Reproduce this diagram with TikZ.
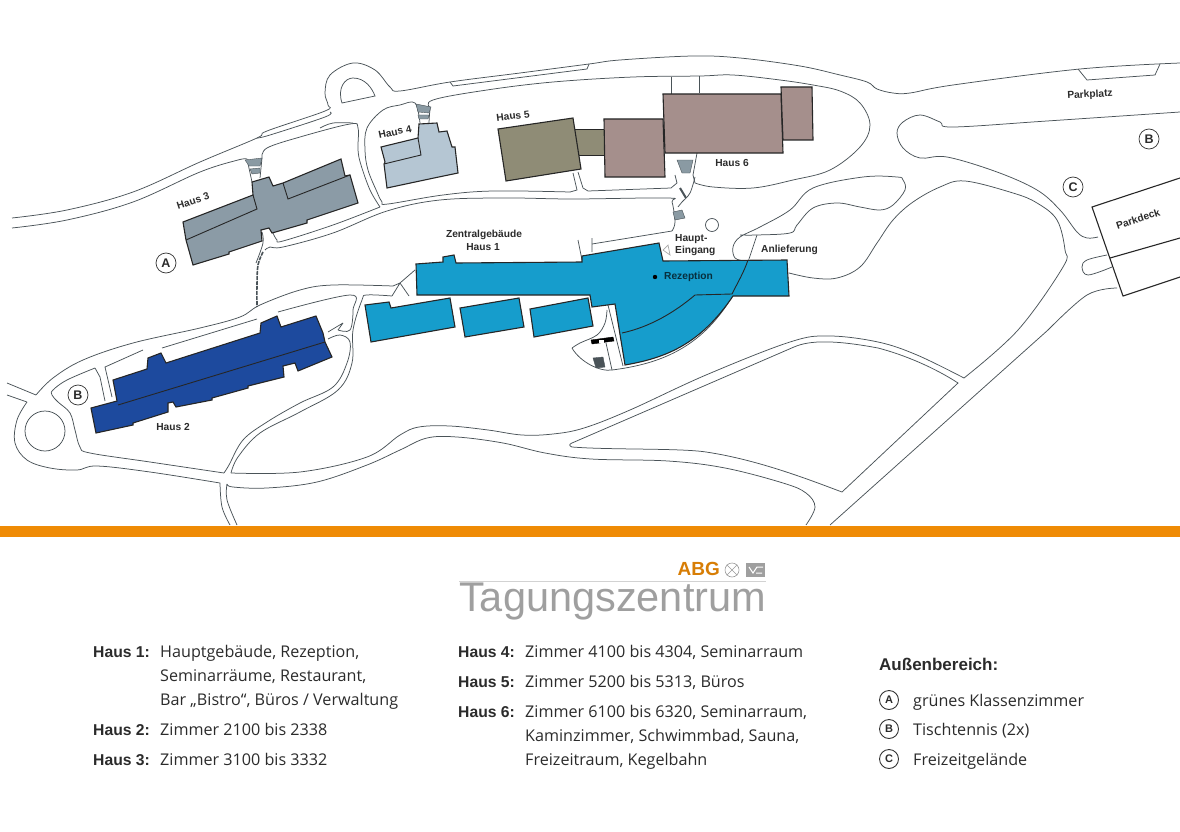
\documentclass[tikz,border=0pt]{standalone}
\usepackage{fontspec}
\setmainfont{Liberation Sans}
\newfontfamily\legendfont{Open Sans}
\usetikzlibrary{calc}
\definecolor{roadline}{HTML}{4A5358}
\definecolor{haus1}{HTML}{169DCC}
\definecolor{haus2}{HTML}{1D4A9E}
\definecolor{haus3}{HTML}{8B9BA6}
\definecolor{haus4}{HTML}{B5C6D3}
\definecolor{haus5}{HTML}{8F8C76}
\definecolor{haus6}{HTML}{A58F8C}
\definecolor{stepgray}{HTML}{8A9AA3}
\definecolor{bar}{HTML}{EF8B05}
\definecolor{ink}{HTML}{2B2B2B}
\tikzset{
    road/.style={draw=roadline, line width=0.75pt},
    house/.style={draw=black!85, line width=1.1pt, line join=miter},
    inner/.style={draw=black!85, line width=0.9pt},
    stairs/.style={fill=stepgray, draw=roadline, line width=0.4pt},
    lbl/.style={font=\bfseries\fontsize{10.2}{11}\selectfont, text=ink, inner sep=0pt},
    mapmark/.style={draw=black!80, circle, line width=0.7pt, minimum size=20pt, inner sep=0pt, font=\bfseries\fontsize{12.5}{13}\selectfont, text=ink},
    smallmark/.style={draw=black!80, circle, line width=0.9pt, minimum size=19pt, inner sep=0pt, font=\bfseries\fontsize{11}{12}\selectfont, text=ink},
    keytext/.style={anchor=base west, inner sep=0pt, font=\bfseries\fontsize{15.7}{16}\selectfont, text=ink},
    legtext/.style={anchor=base west, inner sep=0pt, font=\legendfont\fontsize{16.15}{17}\selectfont, text=ink}
}
\begin{document}
\begin{tikzpicture}[x=1pt, y=-1pt]
    \useasboundingbox (0,0) rectangle (1180,832);

    % west road and small roundabout
    \draw[road] plot[smooth, tension=0.6] coordinates {(12,218) (67,210) (133,192) (200,162) (257,138) (267,131) (325,111) (328,105) (325,93) (330,75) (353,63) (375,70) (390,87) (400,91) (450,82) (520,73) (589,64) (620,60) (693,56) (740,58) (800,66) (840,75) (867,82) (877,89) (893,93) (910,93) (953,85) (1080,69) (1180,63)};
    \draw[road] plot[smooth, tension=0.6] coordinates {(257,138) (270,135) (325,117) (330,112)};
    \draw[road] plot[smooth, tension=0.6] coordinates {(12,228) (67,220) (133,202) (200,172) (238,160) (247,159)};
    \draw[road] (247,159) -- (252,182) (260,178) -- (262,158);
    \draw[road] plot[smooth, tension=0.6] coordinates {(262,158) (267,148) (300,137) (350,124) (358,128) (358,150) (361,165) (370,190) (380,207)};
    \draw[road] plot[smooth, tension=0.6] coordinates {(380,207) (333,225) (283,241) (277,240) (273,233)};
    \draw[road] plot[smooth, tension=0.6] coordinates {(320,128) (333,123) (353,123)};
    \draw[road] (342,103) .. controls (337,88) and (345,78) .. (353,78) .. controls (365,78) and (372,88) .. (375,96) -- cycle;
    \draw[road] plot[smooth, tension=0.6] coordinates {(265,250) (270,247) (283,247) (333,233) (387,211) (440,200) (507,198) (573,199) (667,198) (672,202) (675,222) (672,231)};
    \draw[road] (672,231) -- (592,244);
    % walkway to Haus 2
    \draw[road, line width=1.6pt, dash pattern=on 4pt off 1pt] plot[smooth, tension=0.6] coordinates {(263,252) (258,265) (257,285) (257,307)};
    \draw[road] plot[smooth, tension=0.6] coordinates {(262,232) (263,243) (256,263)};

    % around Haus 4 and Haus 5
    \draw[road] plot[smooth, tension=0.6] coordinates {(429,123) (430,110) (433,100) (487,90) (553,82) (633,77) (700,76) (733,75) (780,80) (813,85) (840,91) (860,103) (870,125) (860,147) (830,170) (793,180) (753,188) (713,187) (695,183)};
    \draw[road] (695,183) -- (693,175) -- (697,153);
    \draw[road] plot[smooth, tension=0.6] coordinates {(420,123) (415,103) (400,105) (383,110) (367,128) (365,150) (368,170) (377,192) (382,202) (388,204) (443,195) (493,191) (570,192)};
    \draw[road] (570,192) -- (577,190) -- (573,173);
    \draw[road] (578,172) -- (583,188) -- (588,191) -- (671,188) -- (677,183) -- (675,175);
    \draw[road] (671,94) -- (671,77) (699,93) -- (699,76);
    \draw[road] plot[smooth, tension=0.6] coordinates {(695,177) (690,193) (682,202) (678,207)};
    \draw[road] (592,238) -- (592,252) (578,240) -- (582,260);
    \draw[road, line width=2pt] (680,188) -- (686,198);
    \draw[stairs] (677,160) -- (693,160) -- (690,173) -- (682,173) -- cycle;
    \draw[stairs] (673,212) -- (682,210) -- (685,218) -- (675,220) -- cycle;
    \draw[stairs] (245,160) -- (262,158) -- (260,166) -- (249,166) -- cycle;
    \draw[stairs] (250,169) -- (260,168) -- (260,173) -- (252,174) -- cycle;
    \draw[stairs] (416,104) -- (431,107) -- (429,113) -- (418,112) -- cycle;
    \draw[stairs] (418,115) -- (429,115) -- (428,119) -- (419,119) -- cycle;

    % east roads
    \draw[road] plot[smooth, tension=0.6] coordinates {(1180,112) (1047,121) (953,127) (940,122) (920,115) (903,122) (897,133) (903,148) (920,158) (947,157) (997,172) (1037,190) (1060,210) (1077,232) (1087,238) (1098,237)};
    \draw[road] plot[smooth, tension=0.6] coordinates {(1107,255) (1087,260) (1082,267) (1088,275) (1112,267)};
    \draw[road] plot[smooth, tension=0.6] coordinates {(745,261) (735,258) (733,247) (740,237) (760,227) (790,210) (813,188) (863,177) (897,177) (903,180) (905,190) (893,205) (880,210) (860,207) (837,203) (813,208) (797,225) (790,233) (757,235) (740,235)};
    \draw[road] (757,235) -- (748,262);
    \draw[road] plot[smooth, tension=0.6] coordinates {(789,273) (813,278) (837,278) (860,267) (877,243) (893,220) (913,202) (940,187) (965,181) (1013,193) (1037,203) (1057,220) (1065,250) (1063,267) (1018,330) (964,378)};
    \draw[road] plot[smooth, tension=0.6] coordinates {(1117,288) (1087,295) (1048,330)};
    \draw[road] (1048,330) -- (830,525);
    \draw[road] (1078,69) -- (1087,80) -- (1155,75) -- (1160,64);
    \draw[road] (450,82) -- (453,86) -- (587,69) -- (589,64);
    \draw[road] (712,225) circle[radius=6.5];

    % long south road and island
    \draw[road] plot[smooth, tension=0.6] coordinates {(231,473) (300,472) (367,457) (400,435) (419,427) (450,426) (488,430) (522,435) (553,434) (584,428) (630,410) (706,375) (790,342) (829,336) (878,342) (917,355) (964,378)};
    \draw[road] plot[smooth, tension=0.6] coordinates {(227,484) (233,487) (267,488) (317,482) (367,465) (400,450) (427,438) (457,437) (503,443) (545,453) (591,459) (668,461) (725,468) (783,483) (806,493) (815,507) (806,525)};
    \draw[road] (842,492) .. controls (815,482) and (760,460) .. (706,452) .. controls (680,448) and (610,450) .. (572,447) .. controls (569,446) and (569,444) .. (572,443) -- (794,347) .. controls (810,340) and (835,340) .. (878,348) .. controls (905,355) and (935,368) .. (958,383) -- cycle;

    % south west roads and roundabout
    \draw[road] plot[smooth, tension=0.6] coordinates {(393,286) (333,285) (300,290) (260,305) (240,317) (200,328) (133,343) (83,360) (53,378) (36,395)};
    \draw[road] (36,395) -- (7,383);
    \draw[road] (7,395) -- (27,402);
    \draw[road] plot[smooth, tension=0.6] coordinates {(27,402) (17,420) (15,443) (27,460) (50,468) (77,470) (97,466) (150,472) (220,483)};
    \draw[road] plot[smooth, tension=0.6] coordinates {(220,483) (222,507) (230,525)};
    \draw[road] plot[smooth, tension=0.6] coordinates {(227,484) (227,500) (237,525)};
    \draw[road] plot[smooth, tension=0.6] coordinates {(95,368) (67,380) (53,390) (52,395) (58,402) (70,413) (75,430) (80,447) (90,453) (150,462) (224,473)};
    \draw[road] (95,368) -- (100,377) -- (105,401);
    \draw[road] (112,397) -- (105,367) -- (143,350);
    \draw[road] (162,348) -- (257,319);
    \draw[road] plot[smooth, tension=0.6] coordinates {(278,312) (350,295) (353,310) (350,330) (338,330)};
    \draw[road] (338,330) -- (343,323) (328,332) -- (343,323);
    \draw[road] plot[smooth, tension=0.6] coordinates {(328,339) (340,335) (350,342) (347,363) (333,387) (300,403) (267,422) (243,440) (229,465) (224,473)};
    \draw[road] plot[smooth, tension=0.6] coordinates {(392,296) (367,295) (362,300) (353,330) (352,363) (338,390) (300,412) (260,433) (238,457) (231,473)};
    \draw[road] (45,431) circle[radius=20];
    \draw[road] (392,296) -- (400,283) -- (409,296) (400,283) -- (415,270) (393,286) -- (400,283);

    % yard behind Haus 1
    \draw[road] plot[smooth, tension=0.6] coordinates {(607,310) (605,323) (597,335) (580,343) (572,348)};
    \draw[road] (572,348) .. controls (580,362) and (600,372) .. (612,370) .. controls (660,364) and (700,348) .. (730,300);
    \draw[road] (606,343) -- (612,370);
    \draw[road] (608,305) -- (623,366);
    \draw[fill=black] (591,340) -- (613,337) -- (614,341) -- (592,344) -- cycle;
    \draw[fill=white, draw=none] (599,339.5) rectangle (604,342.5);
    \draw[stairs, fill=roadline] (593,358) -- (603,357) -- (605,367) -- (596,368) -- cycle;

    % Haus 3
    \draw[house, fill=haus3] (183,222) -- (253,195) -- (252,182) -- (269,177) -- (273,186) -- (283,183) -- (341,159) -- (345,176) -- (350,175) -- (358,203) -- (307,220) -- (307,223) -- (272,233) -- (269,228) -- (261,230) -- (262,241) -- (229,252) -- (229,254) -- (193,265) -- (186,240) -- cycle;
    \draw[inner] (186,240) -- (257,209) -- (253,195) (283,183) -- (288,199) -- (350,175);
    % Haus 4
    \draw[house, fill=haus4] (381,147) -- (418,138) -- (419,124) -- (437,123) -- (439,132) -- (447,131) -- (452,147) -- (455,147) -- (458,173) -- (434,178) -- (387,188) -- (384,164) -- (385,162) -- cycle;
    \draw[inner] (384,164) -- (421,155) -- (418,138);
    % Haus 5
    \draw[draw=none, fill=haus5] (575,129) rectangle (604,155);
    \draw[inner, line width=0.6pt] (575,129) -- (604,129) (578,155) -- (604,155);
    \draw[house, fill=haus5] (498,129) -- (573,118) -- (581,169) -- (506,181) -- cycle;
    % Haus 6
    \draw[house, fill=haus6] (604,119) -- (663,119) -- (665,177) -- (605,177) -- cycle;
    \draw[house, fill=haus6] (663,94) -- (781,94) -- (783,153) -- (665,153) -- cycle;
    \draw[house, fill=haus6] (781,87) -- (812,87) -- (813,140) -- (783,140) -- cycle;
    % Haus 2
    \draw[house, fill=haus2] (113,380) -- (147,369) -- (148,358) -- (161,353) -- (166,363) -- (260,333) -- (261,323) -- (277,316) -- (281,327) -- (316,316) -- (323,333) -- (325,342) -- (332,357) -- (298,371) -- (295,363) -- (283,366) -- (284,377) -- (248,386) -- (248,388) -- (212,398) -- (212,400) -- (176,407) -- (173,402) -- (168,403) -- (168,412) -- (133,423) -- (133,425) -- (96,433) -- (91,408) -- (117,401) -- cycle;
    \draw[inner] (118,405) -- (325,342);
    % Haus 1
    \draw[house, fill=haus1] (416,264) -- (443,262) -- (443,257) -- (454,255) -- (456,263) -- (582,262) -- (582,256) -- (659,243) -- (663,261) -- (787,260) -- (789,296) -- (733,296) .. controls (700,345) and (665,358) .. (625,365) -- (615,304) -- (592,307) -- (590,295) -- (417,295) -- cycle;
    \draw[inner] (622,333) .. controls (650,327) and (675,312) .. (695,295) -- (732,294) .. controls (738,282) and (744,272) .. (748,260);
    \draw[house, fill=haus1] (365,305) -- (389,302) -- (391,308) -- (450,298) -- (455,327) -- (371,342) -- cycle;
    \draw[house, fill=haus1] (460,308) -- (519,298) -- (524,327) -- (465,337) -- cycle;
    \draw[house, fill=haus1] (530,309) -- (588,298) -- (593,326) -- (534,337) -- cycle;
    \draw[draw=gray!70, fill=white, line width=0.7pt] (668,245) -- (663,250) -- (670,255) -- cycle;
    \fill[black] (655,277) circle[radius=2.2];

    % Parkdeck
    \draw[house, fill=white] (1180,178) -- (1092,207) -- (1123,296) -- (1180,277);
    \draw[house] (1110,258) -- (1180,238);

    % map labels
    \node[lbl, rotate=18] (h3) at (193,201) {Haus 3};
    \node[lbl, rotate=12] (h4) at (395,132) {Haus 4};
    \node[lbl, rotate=7] (h5) at (513,116) {Haus 5};
    \node[lbl] (h6) at (732,163) {Haus 6};
    \node[lbl] (h2) at (173,427) {Haus 2};
    \node[lbl] (zentral) at (484,235) {Zentralgebäude};
    \node[lbl] (h1) at (483,247.5) {Haus 1};
    \node[lbl, anchor=west] (haupt) at (675,239) {Haupt-};
    \node[lbl, anchor=west] (eingang) at (675,251) {Eingang};
    \node[lbl, anchor=west] (anlief) at (761,250) {Anlieferung};
    \node[lbl, anchor=west, text=black!70!haus1] (rezep) at (664,277) {Rezeption};
    \node[lbl, rotate=3] (parkplatz) at (1090,95) {Parkplatz};
    \node[lbl, rotate=18] (parkdeck) at (1138,219) {Parkdeck};
    \node[mapmark] (mapA) at (166,263) {A};
    \node[mapmark] (mapB) at (78,395) {B};
    \node[mapmark] (mapB2) at (1149,139) {B};
    \node[mapmark] (mapC) at (1073,187) {C};

    % orange bar and logo
    \fill[bar] (0,526) rectangle (1180,537);
    \draw[gray!35, line width=0.6pt] (459,581) -- (766,581);
    \node[anchor=base east, inner sep=0pt, text=bar!90!black, font=\bfseries\fontsize{19}{20}\selectfont] (abg) at (720,575.5) {ABG};
    \node[draw=gray!80, circle, minimum size=14pt, inner sep=0pt, line width=0.6pt] (logoX) at (732,570) {};
    \draw[gray!80, line width=0.6pt] (logoX.north west) -- (logoX.south east) (logoX.north east) -- (logoX.south west);
    \fill[gray!75] (746,563) rectangle (765,577);
    \draw[white, line width=1pt] (749,567) -- (753,573) -- (757,567) -- (763,567) (756,573) -- (762,573);
    \node[anchor=base west, inner sep=0pt, text=gray!75, font=\fontsize{41.5}{42}\selectfont] (titel) at (459,611) {Tagungszentrum};

    % legend
    \node[keytext] (k1) at (93,657) {Haus 1:};
    \node[legtext] (t1a) at (160,657) {Hauptgebäude, Rezeption,};
    \node[legtext] (t1b) at (160,681) {Seminarräume, Restaurant,};
    \node[legtext] (t1c) at (160,705) {Bar „Bistro“, Büros / Verwaltung};
    \node[keytext] (k2) at (93,735) {Haus 2:};
    \node[legtext] (t2) at (160,735) {Zimmer 2100 bis 2338};
    \node[keytext] (k3) at (93,765) {Haus 3:};
    \node[legtext] (t3) at (160,765) {Zimmer 3100 bis 3332};
    \node[keytext] (k4) at (458,657) {Haus 4:};
    \node[legtext] (t4) at (525,657) {Zimmer 4100 bis 4304, Seminarraum};
    \node[keytext] (k5) at (458,687) {Haus 5:};
    \node[legtext] (t5) at (525,687) {Zimmer 5200 bis 5313, Büros};
    \node[keytext] (k6) at (458,717) {Haus 6:};
    \node[legtext] (t6a) at (525,717) {Zimmer 6100 bis 6320, Seminarraum,};
    \node[legtext] (t6b) at (525,741) {Kaminzimmer, Schwimmbad, Sauna,};
    \node[legtext] (t6c) at (525,765) {Freizeitraum, Kegelbahn};
    \node[keytext, font=\bfseries\fontsize{17}{18}\selectfont] (aussen) at (879,670) {Außenbereich:};
    \node[smallmark] (legA) at (889,700) {A};
    \node[legtext] (tA) at (913,706) {grünes Klassenzimmer};
    \node[smallmark] (legB) at (889,729) {B};
    \node[legtext] (tB) at (913,735) {Tischtennis (2x)};
    \node[smallmark] (legC) at (889,759) {C};
    \node[legtext] (tC) at (913,765) {Freizeitgelände};
\end{tikzpicture}
\end{document}
